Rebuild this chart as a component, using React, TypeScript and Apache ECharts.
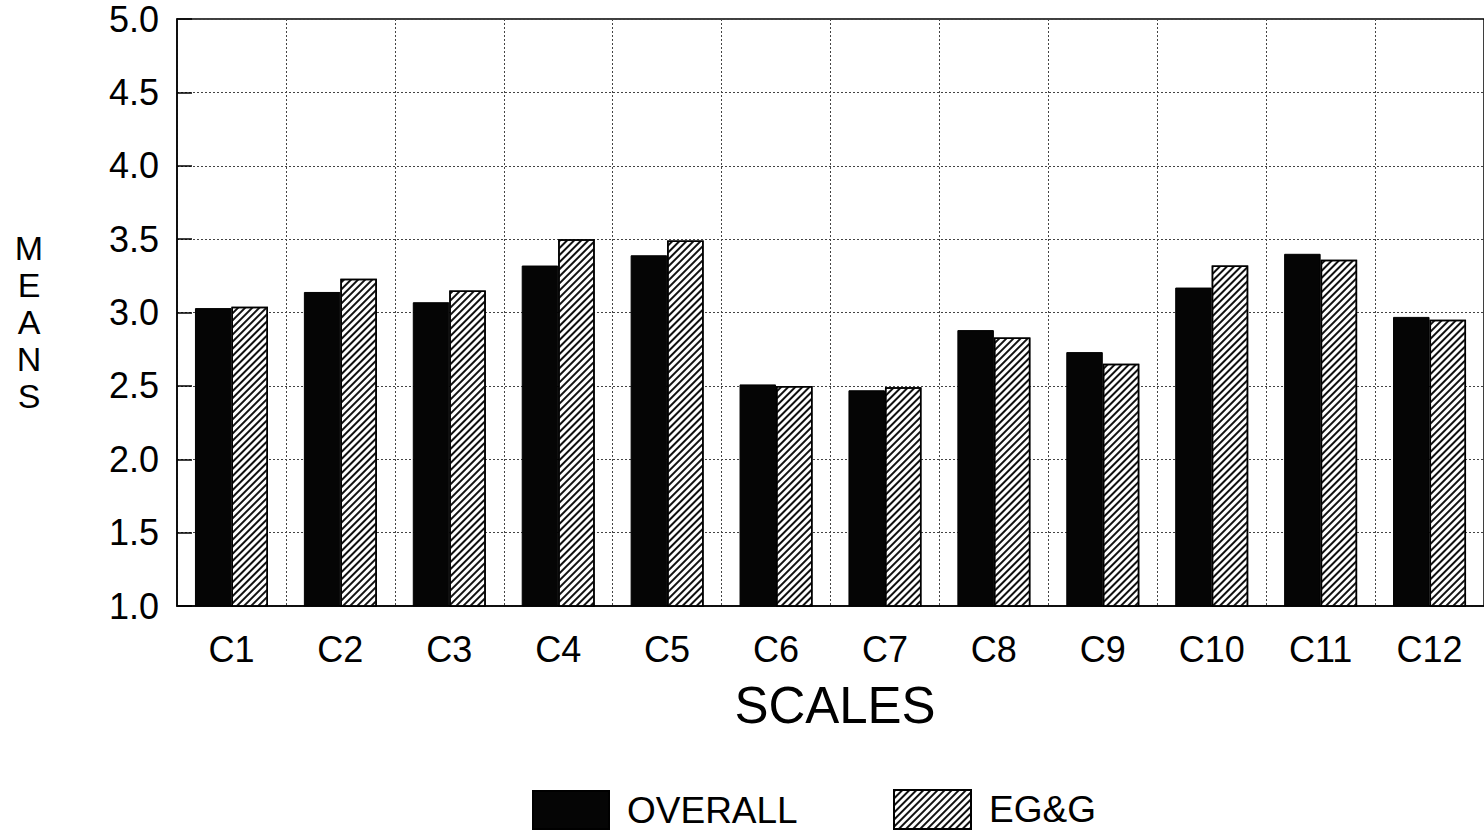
import React, { useEffect, useRef } from "react";
import * as echarts from "echarts";

const categories = ["C1", "C2", "C3", "C4", "C5", "C6", "C7", "C8", "C9", "C10", "C11", "C12"];
const overall = [3.03, 3.14, 3.07, 3.32, 3.39, 2.51, 2.47, 2.88, 2.73, 3.17, 3.40, 2.97];
const egg = [3.04, 3.23, 3.15, 3.50, 3.49, 2.50, 2.49, 2.83, 2.65, 3.32, 3.36, 2.95];
const yMin = 1.0;
const yMax = 5.0;
const yStep = 0.5;

const FONT = "'Liberation Sans', Arial, Helvetica, sans-serif";

export default function App() {
  const ref = useRef<HTMLDivElement | null>(null);

  useEffect(() => {
    if (!ref.current) return;
    const chart = echarts.init(ref.current, undefined, { renderer: "svg" });
    const hatch = {
      symbol: "rect",
      symbolSize: 1,
      color: "#111",
      backgroundColor: "#fff",
      dashArrayX: [1, 0],
      dashArrayY: [1.6, 2.6],
      rotation: -Math.PI / 4,
    };
    const legendText = {
      fontFamily: FONT,
      fontSize: 37,
      lineHeight: 34,
      color: "#000",
      padding: [0, 0, 0, 13],
    };
    chart.setOption({
      animation: false,
      backgroundColor: "#fff",
      grid: {
        left: 177,
        top: 19,
        width: 1320,
        height: 587,
        show: true,
        borderColor: "#000",
        borderWidth: 1.5,
        backgroundColor: "transparent",
        containLabel: false,
      },
      legend: [
        {
          data: [{ name: "OVERALL", icon: "rect" }],
          left: 532,
          top: 790,
          padding: 0,
          itemWidth: 76,
          itemHeight: 38,
          textStyle: legendText,
          selectedMode: false,
        },
        {
          data: [{ name: "EG&G", icon: "rect" }],
          left: 893,
          top: 789,
          padding: 0,
          itemWidth: 77,
          itemHeight: 39,
          textStyle: legendText,
          selectedMode: false,
        },
      ],
      xAxis: {
        type: "category",
        data: categories,
        boundaryGap: true,
        axisLine: { show: true, lineStyle: { color: "#000", width: 1.5 } },
        axisTick: { show: false },
        axisLabel: {
          fontFamily: FONT,
          fontSize: 36,
          color: "#000",
          margin: 25,
          interval: 0,
        },
        splitLine: {
          show: true,
          interval: 0,
          lineStyle: { color: "#444", type: [2, 2], width: 1 },
        },
      },
      yAxis: {
        type: "value",
        min: yMin,
        max: yMax,
        interval: yStep,
        axisLine: { show: true, lineStyle: { color: "#000", width: 1.5 } },
        axisTick: { show: true, inside: true, length: 15, lineStyle: { color: "#000", width: 1.5 } },
        axisLabel: {
          fontFamily: FONT,
          fontSize: 36,
          color: "#000",
          margin: 18,
          padding: [6, 0, 0, 0],
          formatter: (v: number) => v.toFixed(1),
        },
        splitLine: {
          show: true,
          lineStyle: { color: "#444", type: [2, 2], width: 1 },
        },
      },
      series: [
        {
          name: "OVERALL",
          type: "bar",
          data: overall,
          barWidth: 36.5,
          barGap: "0%",
          itemStyle: { color: "#050505", borderColor: "#000", borderWidth: 1 },
        },
        {
          name: "EG&G",
          type: "bar",
          data: egg,
          barWidth: 36.5,
          barGap: "0%",
          itemStyle: { color: "#fff", borderColor: "#000", borderWidth: 1.5, decal: hatch },
        },
      ],
      graphic: [
        {
          type: "text",
          x: 835,
          y: 705,
          style: {
            text: "SCALES",
            fontFamily: FONT,
            fontSize: 51,
            fill: "#000",
            align: "center",
            verticalAlign: "middle",
          },
        },
        {
          type: "text",
          x: 29,
          y: 322,
          style: {
            text: "M\nE\nA\nN\nS",
            fontFamily: FONT,
            fontSize: 34,
            lineHeight: 37,
            fill: "#000",
            align: "center",
            verticalAlign: "middle",
          },
        },
      ],
    });
    return () => chart.dispose();
  }, []);

  return (
    <div
      ref={ref}
      style={{ position: "fixed", left: 0, top: 0, width: 1484, height: 836, background: "#fff" }}
    />
  );
}
